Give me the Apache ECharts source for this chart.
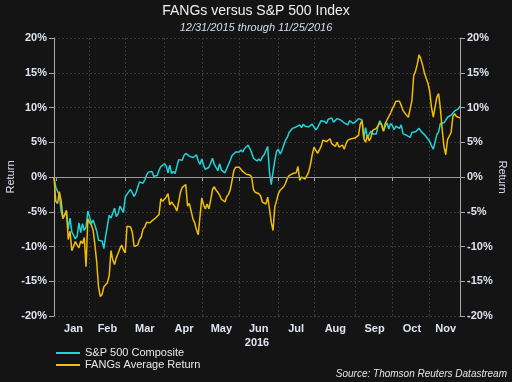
<!DOCTYPE html>
<html><head><meta charset="utf-8">
<script src="https://cdn.jsdelivr.net/npm/echarts@6/dist/echarts.min.js"></script>
<style>html,body{margin:0;padding:0;background:#141414;}#c{width:512px;height:382px;}</style>
</head><body><div id="c"></div>
<script>
// Months shown on the axis and number of trading days in each (2016)
const monthNames = ['Jan','Feb','Mar','Apr','May','Jun','Jul','Aug','Sep','Oct','Nov'];
const tradingDays = [19,20,22,21,21,22,20,23,21,21,18];
const yTickValues = [-20,-15,-10,-5,0,5,10,15,20];

// S&P 500 Composite, % return since 12/31/2015
const spx = [
 0,-1.5,-1.3,-2.6,-4.9,-5.9,-5.8,-5.1,-7.5,-5.9,-7.9,-7.9,-8.9,-8.5,-6.6,-8.0,-6.7,-7.7,-7.2,-4.9,
 -4.9,-6.7,-6.2,-6.1,-7.8,-9.1,-9.2,-9.2,-10.3,-8.5,-7.0,-5.5,-5.9,-5.9,-4.5,-5.7,-5.3,-4.2,-4.4,-5.1,
 -2.9,-2.5,-2.1,-1.8,-1.7,-2.8,-2.3,-2.3,-0.7,-0.8,-0.9,-0.4,0.3,0.7,0.8,0.8,0.1,0.1,0.2,1.0,1.5,1.3,
 1.9,1.6,0.6,1.7,0.5,0.8,0.5,1.5,2.5,2.5,2.4,3.1,3.4,3.5,3.0,3.0,2.8,3.0,3.2,2.3,1.8,
 2.6,1.7,1.1,1.1,1.4,1.5,2.7,1.8,1.8,0.9,1.9,1.0,1.0,0.6,1.2,1.0,2.4,3.1,3.1,3.6,3.5,
 3.6,3.9,3.6,4.1,4.3,4.6,4.4,3.5,2.7,2.5,2.3,2.6,2.3,2.9,3.2,3.0,4.4,0.7,-1.1,0.7,2.4,3.7,
 4.0,3.3,3.8,3.7,5.3,5.7,6.4,6.4,7.0,6.9,7.2,7.0,7.5,7.1,7.6,7.3,7.3,7.2,7.4,7.6,
 7.5,6.8,7.1,7.2,8.1,8.0,8.0,7.7,8.3,8.2,8.5,7.9,8.1,8.4,8.2,8.2,8.4,7.8,7.7,7.5,8.1,7.9,7.7,
 7.7,8.1,8.4,8.4,8.2,5.6,7.1,5.6,5.5,6.6,6.2,6.2,6.2,7.4,8.1,7.5,6.6,7.3,7.8,6.9,7.7,
 7.4,6.8,7.3,7.4,7.0,7.5,6.2,6.3,6.0,6.1,5.7,6.4,6.6,6.5,6.5,7.0,6.6,6.4,6.1,5.8,5.8,
 5.1,4.5,4.0,3.8,6.1,6.5,7.7,7.9,7.8,7.8,8.6,8.4,8.9,8.7,9.5,9.7,9.8,10.2
];

// FANGs average return, % since 12/31/2015
const fangs = [
 0,-3.5,-3.8,-2.1,-3.4,-6.0,-6.2,-4.8,-9.0,-7.8,-10.6,-10.5,-9.3,-9.8,-10.2,-9.2,-9.6,-8.7,-12.9,-6.0,
 -6.6,-6.9,-7.7,-9.8,-12.3,-15.8,-17.2,-16.9,-15.8,-15.5,-15.2,-14.2,-10.6,-11.9,-12.6,-11.6,-11.0,-10.3,-9.8,-10.5,
 -10.9,-7.1,-7.0,-7.2,-8.0,-10.0,-10.2,-9.8,-9.0,-8.6,-7.5,-7.2,-6.5,-6.3,-6.6,-6.3,-6.2,-5.9,-5.7,-5.4,-3.1,-3.5,
 -3.7,-2.9,-2.4,-4.0,-3.6,-3.4,-4.3,-4.9,-3.6,-2.2,-1.5,-1.3,-1.1,-4.2,-3.8,-4.0,-6.0,-6.6,-7.6,-8.3,-8.4,
 -3.0,-4.0,-4.6,-3.9,-4.6,-3.3,-1.8,-1.4,-1.9,-2.2,-2.6,-3.2,-3.1,-3.6,-2.8,-2.5,-1.8,-0.5,0.9,1.4,1.5,
 1.4,1.2,0.8,0.7,0.4,0.5,0.3,0.0,-1.8,-2.2,-2.1,-2.4,-2.7,-3.6,-3.7,-3.9,-2.9,-4.6,-6.5,-7.7,-4.3,-3.4,
 -2.4,-1.9,-1.7,-1.4,-0.9,-0.2,0.2,0.2,0.5,0.3,0.6,1.5,-0.5,0.0,-0.2,-0.3,0.2,0.7,1.8,3.2,
 4.3,4.2,3.4,3.5,4.4,5.3,5.1,5.1,5.2,5.5,4.8,4.6,4.4,5.0,4.3,4.2,4.6,4.0,4.8,5.3,5.5,5.5,5.4,
 5.6,5.7,6.0,7.6,8.1,5.5,5.0,6.0,5.2,5.7,6.7,6.8,7.0,6.8,7.8,7.5,6.6,7.7,8.2,8.4,9.2,
 9.8,10.3,10.9,10.7,10.9,10.3,9.6,9.2,8.9,8.6,8.4,11.0,14.6,15.2,16.2,17.6,17.0,16.1,15.0,14.2,13.5,
 12.3,10.0,8.6,8.8,11.5,12.0,9.8,6.8,4.4,3.2,5.4,5.9,6.4,8.7,9.1,8.7,8.5,8.5
];

const categories = ['Dec 31'];
const monthStart = new Set();
const labelIdx = new Set();
monthNames.forEach((m, k) => {
  const start = categories.length;
  monthStart.add(start);
  labelIdx.add(start + Math.ceil(tradingDays[k] / 2));
  for (let d = 1; d <= tradingDays[k]; d++) categories.push(m + ' ' + d);
});

const font = "'Liberation Sans', Arial, sans-serif";
const axisTxt = '#dfe4f0';
const axisCol = '#a8a8a8';

function yAxisCfg(pos) {
  return {
    type: 'value', position: pos, min: yTickValues[0], max: yTickValues[yTickValues.length - 1], interval: 5,
    axisLine: { show: true, lineStyle: { color: axisCol } },
    axisTick: { show: true, length: 5, lineStyle: { color: axisCol } },
    axisLabel: { formatter: '{value}%', color: axisTxt, fontWeight: 'bold', fontSize: 11, fontFamily: font, margin: 7 },
    splitLine: { show: pos === 'left', lineStyle: { color: '#3a3a3a', type: [2, 2] } },
    name: 'Return', nameLocation: 'middle', nameMoveOverlap: false,
    nameGap: pos === 'left' ? 38 : 37, nameRotate: pos === 'left' ? 90 : -90,
    nameTextStyle: { color: '#e0d8f2', fontSize: 11, fontFamily: font }
  };
}

const chart = echarts.init(document.getElementById('c'));
chart.setOption({
  backgroundColor: '#141414',
  animation: false,
  title: {
    text: 'FANGs versus S&P 500 Index', subtext: '12/31/2015 through 11/25/2016',
    left: 'center', top: -1, itemGap: 4,
    textStyle: { color: '#f0f0f0', fontSize: 14, fontWeight: 'normal', fontFamily: font },
    subtextStyle: { color: '#d6def0', fontSize: 11, fontStyle: 'italic', fontFamily: font }
  },
  grid: { left: 54, right: 52, top: 38, bottom: 66, outerBoundsMode: 'none', containLabel: false },
  legend: {
    orient: 'vertical', left: 56, top: 347, padding: 0, itemWidth: 24, itemHeight: 2, itemGap: 0, icon: 'rect',
    textStyle: { color: '#e8e8e8', fontSize: 11, fontFamily: font, lineHeight: 12 },
    data: ['S&P 500 Composite', 'FANGs Average Return']
  },
  graphic: [{
    type: 'text', right: 5, bottom: 3,
    style: { text: 'Source: Thomson Reuters Datastream', font: "italic 10px 'Liberation Sans', Arial", fill: '#e6e6e6' }
  }],
  xAxis: {
    type: 'category', data: categories, boundaryGap: false,
    axisLine: { lineStyle: { color: axisCol } },
    axisTick: { interval: (i) => monthStart.has(i), length: 4, lineStyle: { color: axisCol } },
    axisLabel: { interval: (i) => labelIdx.has(i), formatter: (v) => v.split(' ')[0], color: axisTxt, fontWeight: 'bold', fontSize: 11, fontFamily: font, margin: 7 },
    splitLine: { show: true, interval: (i) => monthStart.has(i) && i > 1, lineStyle: { color: '#3a3a3a', type: [2, 2] } },
    name: '2016', nameLocation: 'middle', nameGap: 21, nameMoveOverlap: false,
    nameTextStyle: { color: axisTxt, fontWeight: 'bold', fontSize: 11, fontFamily: font }
  },
  yAxis: [yAxisCfg('left'), yAxisCfg('right')],
  series: [
    { name: 'S&P 500 Composite', type: 'line', data: spx, showSymbol: false, color: '#1fd4d8',
      lineStyle: { width: 1.5, color: '#1fd4d8' },
      markLine: { silent: true, symbol: 'none', label: { show: false }, lineStyle: { color: '#9c9c9c', type: 'solid', width: 1 }, data: [{ yAxis: 0 }] } },
    { name: 'FANGs Average Return', type: 'line', data: fangs, showSymbol: false, color: '#f2bd00',
      lineStyle: { width: 1.5, color: '#f2bd00' } }
  ]
});
</script>
</body></html>
